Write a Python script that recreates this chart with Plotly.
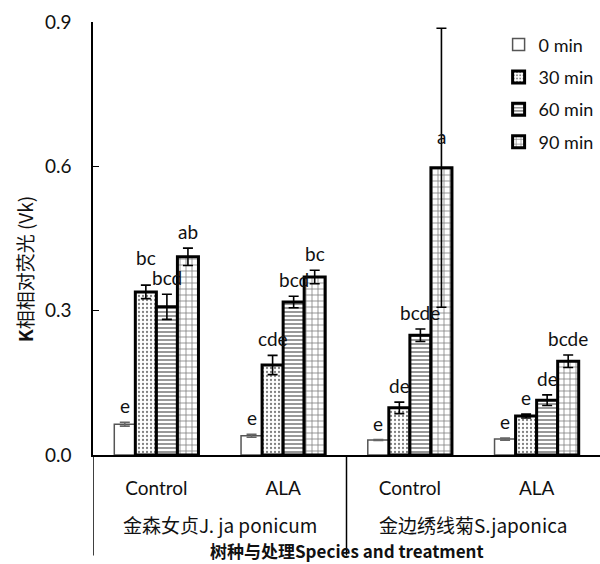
import plotly.graph_objects as go

# Categories (species x treatment) and their displayed labels
categories = ["J-Control", "J-ALA", "S-Control", "S-ALA"]
treatment_labels = ["Control", "ALA", "Control", "ALA"]
species_labels = ["金森女贞J. ja ponicum", "金边绣线菊S.japonica"]
series_names = ["0 min", "30 min", "60 min", "90 min"]

# Relative fluorescence Vk per time point
vk_0 = [0.064, 0.040, 0.031, 0.033]
vk_30 = [0.339, 0.187, 0.098, 0.081]
vk_60 = [0.308, 0.318, 0.249, 0.114]
vk_90 = [0.412, 0.370, 0.597, 0.195]

# Standard errors
err_0 = [0.004, 0.003, 0.001, 0.002]
err_30 = [0.014, 0.020, 0.012, 0.004]
err_60 = [0.026, 0.012, 0.013, 0.011]
err_90 = [0.018, 0.014, 0.290, 0.013]

# Significance letters
sig_0 = ["e", "e", "e", "e"]
sig_30 = ["bc", "cde", "de", "e"]
sig_60 = ["bcd", "bcd", "bcde", "de"]
sig_90 = ["ab", "bc", "a", "bcde"]

values = [vk_0, vk_30, vk_60, vk_90]
errors = [err_0, err_30, err_60, err_90]
letters = [sig_0, sig_30, sig_60, sig_90]

FONT = "Lato, 'Noto Sans CJK SC', sans-serif"
CJK = "'Noto Sans CJK SC', Lato, sans-serif"
BARGAP = 0.336
WIDTH, HEIGHT = 600, 564
MARGIN = dict(l=93, r=0, t=22, b=109)
Y_RANGE = [0, 0.9]
LETTER_SIZE = 19

styles = [
    dict(fill="white", line="#555555", lw=1.5, shape="", ecolor="#666666"),
    dict(fill="white", line="black", lw=3, shape=".", ecolor="black"),
    dict(fill="white", line="black", lw=3, shape="-", ecolor="black"),
    dict(fill="white", line="black", lw=3, shape="+", ecolor="black"),
]

fig = go.Figure()
for k, name in enumerate(series_names):
    st = styles[k]
    pattern = dict(shape=st["shape"], fgcolor="black", bgcolor="white",
                   size=4 if st["shape"] != "+" else 6,
                   solidity=0.4 if st["shape"] == "-" else 0.25,
                   fillmode="overlay")
    fig.add_trace(go.Bar(
        x=categories, y=values[k], name=name,
        legendgroup=name,
        marker=dict(color=st["fill"], line=dict(color=st["line"], width=st["lw"]),
                    pattern=pattern),
        error_y=dict(type="data", array=errors[k], visible=True,
                     color=st["ecolor"], thickness=1.6, width=5),
    ))

# Significance letters above each bar; labels that would collide with the
# label of the bar to their right are lifted above it.
plot_w = WIDTH - MARGIN["l"] - MARGIN["r"]
plot_h = HEIGHT - MARGIN["t"] - MARGIN["b"]
px_per_cat = plot_w / len(categories)
px_per_unit = plot_h / (Y_RANGE[1] - Y_RANGE[0])
slot = (1 - BARGAP) / len(series_names)
char_w, text_h, gap = 10, 20, 3

for i in range(len(categories)):
    placed_right = None  # (x_left, x_right, bottom_px_above_axis)
    for k in reversed(range(len(series_names))):
        xc = i + (k - 1.5) * slot
        anchor = values[k][i] + min(errors[k][i], 0.03)
        bottom = anchor * px_per_unit + gap
        half = len(letters[k][i]) * char_w / 2
        xl, xr = xc * px_per_cat - half, xc * px_per_cat + half
        if placed_right is not None:
            rl, rr, rb = placed_right
            if xr > rl and xl < rr and bottom < rb + text_h and bottom + text_h > rb:
                bottom = rb + text_h
        placed_right = (xl, xr, bottom)
        fig.add_annotation(
            x=xc, y=anchor, xref="x", yref="y",
            text=letters[k][i], showarrow=False, yanchor="bottom",
            yshift=bottom - anchor * px_per_unit,
            font=dict(family=FONT, size=LETTER_SIZE, color="#111111"),
        )

# Species labels under treatment labels
for g, lab in enumerate(species_labels):
    fig.add_annotation(
        x=2 * g + 0.5, y=-0.160, xref="x", yref="paper",
        text=lab, showarrow=False, yanchor="middle",
        font=dict(family=CJK, size=19, color="#111111"),
    )

# Group dividers extending below the axis
for xv in [-0.5, 1.5]:
    fig.add_shape(type="line", xref="x", yref="paper", x0=xv, x1=xv,
                  y0=0, y1=-0.232, line=dict(color="black", width=1.5))

# Axis titles
fig.add_annotation(
    x=0.5, y=-0.221, xref="paper", yref="paper",
    text="<b>树种与处理Species and treatment</b>", showarrow=False,
    yanchor="middle", font=dict(family=CJK, size=17, color="#111111"),
)
fig.add_annotation(
    x=-0.135, y=0.43, xref="paper", yref="paper",
    text="<b>K</b>相相对荧光 (Vk)", showarrow=False, textangle=-90,
    xanchor="center", yanchor="middle",
    font=dict(family=CJK, size=19, color="#111111"),
)

fig.update_layout(
    width=WIDTH, height=HEIGHT,
    margin=MARGIN,
    plot_bgcolor="white", paper_bgcolor="white",
    barmode="group", bargap=BARGAP, bargroupgap=0,
    font=dict(family=FONT, size=19, color="#111111"),
    legend=dict(x=0.8, y=0.99, xanchor="left", yanchor="top",
                bgcolor="rgba(0,0,0,0)", tracegroupgap=6,
                font=dict(family=FONT, size=18)),
    xaxis=dict(
        tickmode="array", tickvals=categories, ticktext=treatment_labels,
        showline=True, linecolor="black", linewidth=1.5, ticks="",
        ticklabelstandoff=15, showgrid=False, zeroline=False,
        range=[-0.5, 3.5],
    ),
    yaxis=dict(
        range=Y_RANGE, tickvals=[0, 0.3, 0.6, 0.9],
        tickformat=".1f", showline=True, linecolor="black", linewidth=1.5,
        ticks="inside", ticklen=6, tickcolor="black", ticklabelstandoff=16,
        showgrid=False, zeroline=False,
    ),
)

fig.write_html("out.html")
